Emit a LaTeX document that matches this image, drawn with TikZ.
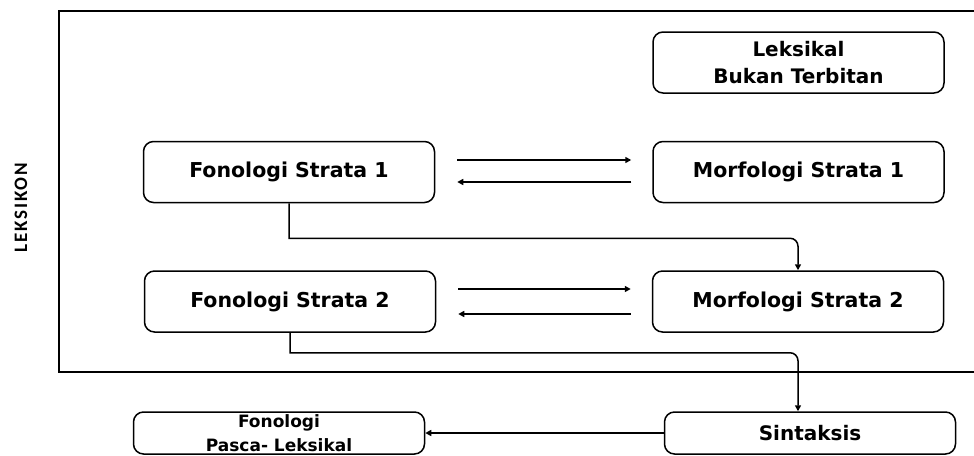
\documentclass[tikz,border=0pt]{standalone}
\usepackage{fontspec}
\setmainfont{DejaVu Sans}
\newfontfamily\boxfont{DejaVu Sans}
\newfontfamily\sidefont{Carlito}[LetterSpace=10]
\usetikzlibrary{arrows.meta}
\begin{document}
\begin{tikzpicture}[x=1pt,y=-1pt,
  box/.style={draw, line width=1.5pt, rounded corners=10pt, minimum width=291pt, minimum height=61pt, align=center, font=\boxfont\fontsize{20.5}{27}\selectfont\bfseries, inner sep=2pt},
  lowbox/.style={box, minimum height=42pt},
  arr/.style={line width=1.5pt, -{Triangle[length=6pt,width=6pt]}},
  frame/.style={line width=1.5pt}]
\useasboundingbox (0,0) rectangle (974,455);
\draw[frame] (990,11) -- (59,11) -- (59,372) -- (990,372);
\node[font=\sidefont\fontsize{19}{20}\selectfont\bfseries, rotate=90] (lex) at (21,208) {LEKSIKON};
\node[box, font=\boxfont\fontsize{20}{27}\selectfont\bfseries] (lb) at (798.5,62.5) {Leksikal\\Bukan Terbitan};
\node[box] (f1) at (289,172) {Fonologi Strata 1};
\node[box] (m1) at (798.5,172) {Morfologi Strata 1};
\node[box] (f2) at (290,301.5) {Fonologi Strata 2};
\node[box] (m2) at (798,301.5) {Morfologi Strata 2};
\node[lowbox, font=\boxfont\fontsize{20}{24}\selectfont\bfseries] (sin) at (810,433) {Sintaksis};
\node[lowbox, font=\boxfont\fontsize{17}{24}\selectfont\bfseries] (pl) at (279,433) {Fonologi\\Pasca- Leksikal};
\draw[arr] ([xshift=22pt,yshift=12pt]f1.east) -- ([xshift=-21pt,yshift=12pt]m1.west);
\draw[arr] ([xshift=-21pt,yshift=-10pt]m1.west) -- ([xshift=22pt,yshift=-10pt]f1.east);
\draw[arr] ([xshift=22pt,yshift=12.5pt]f2.east) -- ([xshift=-21pt,yshift=12.5pt]m2.west);
\draw[arr] ([xshift=-21pt,yshift=-12.5pt]m2.west) -- ([xshift=22pt,yshift=-12.5pt]f2.east);
\draw[arr] (f1.south) -- ++(0,35) [rounded corners=8pt] -| (m2.north);
\draw[arr] (f2.south) -- ++(0,20) [rounded corners=8pt] -| ([xshift=-12pt]sin.north);
\draw[arr] (sin.west) -- (pl.east);
\end{tikzpicture}
\end{document}
